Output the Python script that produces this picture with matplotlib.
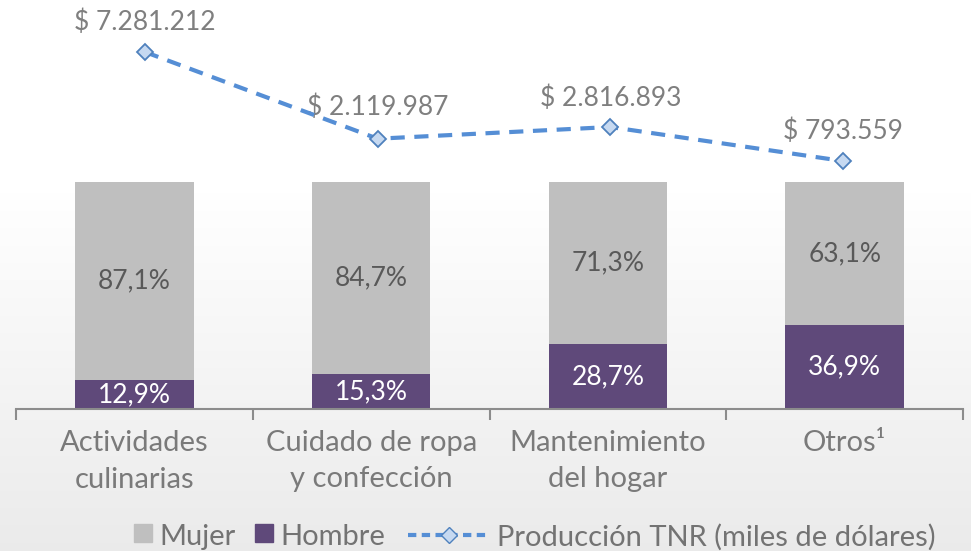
import numpy as np
import matplotlib
matplotlib.use("Agg")
import matplotlib.pyplot as plt
from matplotlib.lines import Line2D
from matplotlib.patches import Patch, Rectangle
from matplotlib.legend_handler import HandlerPatch

categories = ["Actividades\nculinarias", "Cuidado de ropa\ny confección", "Mantenimiento\ndel hogar", "Otros\u00b9"]
mujer = [87.1, 84.7, 71.3, 63.1]
hombre = [12.9, 15.3, 28.7, 36.9]
produccion = [7281212, 2119987, 2816893, 793559]
prod_labels = ["$ 7.281.212", "$ 2.119.987", "$ 2.816.893", "$ 793.559"]

FONT = "Lato"
plt.rcParams["font.family"] = [FONT, "DejaVu Sans"]

W, H = 971, 551
fig = plt.figure(figsize=(W / 100, H / 100), dpi=100)

# background gradient (vertical)
bg = fig.add_axes([0, 0, 1, 1], zorder=-10)
grad = np.linspace(0, 1, 256)
vals = 1.0 - 0.08 * np.clip((grad - 0.35) / 0.65, 0, 1)
img = np.repeat(vals[:, None], 2, axis=1)
img = np.dstack([img, img, img])
bg.imshow(img, aspect="auto", extent=[0, 1, 1, 0])
bg.set_xlim(0, 1); bg.set_ylim(1, 0)
bg.axis("off")

left_px, right_px, base_px = 16, 963, 409
rect = [left_px / W, 1 - base_px / H, (right_px - left_px) / W, base_px / H]
ax = fig.add_axes(rect)
ax.patch.set_alpha(0)
x = np.arange(len(categories))
bw = 0.5
gray = "#BFBFBF"
purple = "#5F497A"
ax.bar(x, hombre, bw, color=purple, label="Hombre", zorder=2)
ax.bar(x, mujer, bw, bottom=hombre, color=gray, label="Mujer", zorder=2)
ax.set_xlim(-0.5, len(categories) - 0.5)
top100 = 409 - 182
ax.set_ylim(0, 100 * base_px / top100)

for i in range(len(categories)):
    ax.text(x[i], hombre[i] / 2, f"{hombre[i]:.1f}%".replace(".", ","), ha="center", va="center",
            color="white", fontsize=19, zorder=3)
    ax.text(x[i], hombre[i] + mujer[i] / 2, f"{mujer[i]:.1f}%".replace(".", ","), ha="center", va="center",
            color="#595959", fontsize=19, zorder=3)

for s in ["top", "right", "left"]:
    ax.spines[s].set_visible(False)
ax.spines["bottom"].set_color("#8C8C8C")
ax.spines["bottom"].set_linewidth(1.5)
ax.set_yticks([])
ax.set_xticks(np.arange(-0.5, len(categories), 1.0))
ax.set_xticklabels([])
ax.tick_params(axis="x", length=8, width=1.5, color="#8C8C8C", direction="out")
ypp = ax.get_ylim()[1] / base_px  # data units per pixel
for i, c in enumerate(categories):
    ax.text(x[i], -(430 - base_px) * ypp, c, ha="center", va="top", color="#7A7A7A",
            fontsize=21, linespacing=1.5, transform=ax.transData)

# line on its own overlay axes (points sit slightly inside the bar centres, as in the source)
ax2 = fig.add_axes(rect, zorder=3)
ax2.patch.set_alpha(0)
p0, p3 = 145, 843
ppu = (p3 - p0) / 3
ax2.set_xlim(-(p0 - left_px) / ppu, (right_px - p0) / ppu)
slope = (161 - 52) / (produccion[0] - produccion[3])
y0 = 161 + produccion[3] * slope
ax2.set_ylim(-(base_px - y0) / slope, y0 / slope)
ax2.axis("off")
line_color = "#558ED5"
dash = (0, (3.4, 2.3))
ax2.plot(x, produccion, linestyle=dash, color=line_color, linewidth=3,
         marker="D", markersize=8, markerfacecolor="#C6D9F1", markeredgecolor="#4F81BD",
         markeredgewidth=1.3, zorder=4)
offs = [(0, 16), (0, 17), (0, 15), (0, 16)]
for i, (v, lab) in enumerate(zip(produccion, prod_labels)):
    ax2.annotate(lab, (x[i], v), xytext=offs[i], textcoords="offset points", ha="center",
                 va="baseline", color="#7F7F7F", fontsize=19)


def square(legend, orig_handle, xdescent, ydescent, width, height, fontsize):
    s = 13
    return Rectangle((-xdescent + width - s, -ydescent + (height - s) / 2 + 1), s, s)


leg_items = [
    (Patch(color=gray, label="Mujer"), 137, 0.5),
    (Patch(color=purple, label="Hombre"), 258, 0.5),
    (Line2D([0], [0], linestyle=(0, (2.0, 1.3)), color=line_color, linewidth=3, marker="D",
            markersize=8, markerfacecolor="#C6D9F1", markeredgecolor="#4F81BD",
            label="Producción TNR (miles de dólares)"), 408, 2.8),
]
for h, xpx, hl in leg_items:
    lg = fig.legend(handles=[h], loc="center left", bbox_to_anchor=(xpx / W, 1 - 537 / H),
                    frameon=False, fontsize=21, labelcolor="#737373", handlelength=hl,
                    handletextpad=0.25, numpoints=1, borderpad=0, borderaxespad=0,
                    handler_map={Patch: HandlerPatch(patch_func=square)})

fig.savefig("out.png", dpi=100)
